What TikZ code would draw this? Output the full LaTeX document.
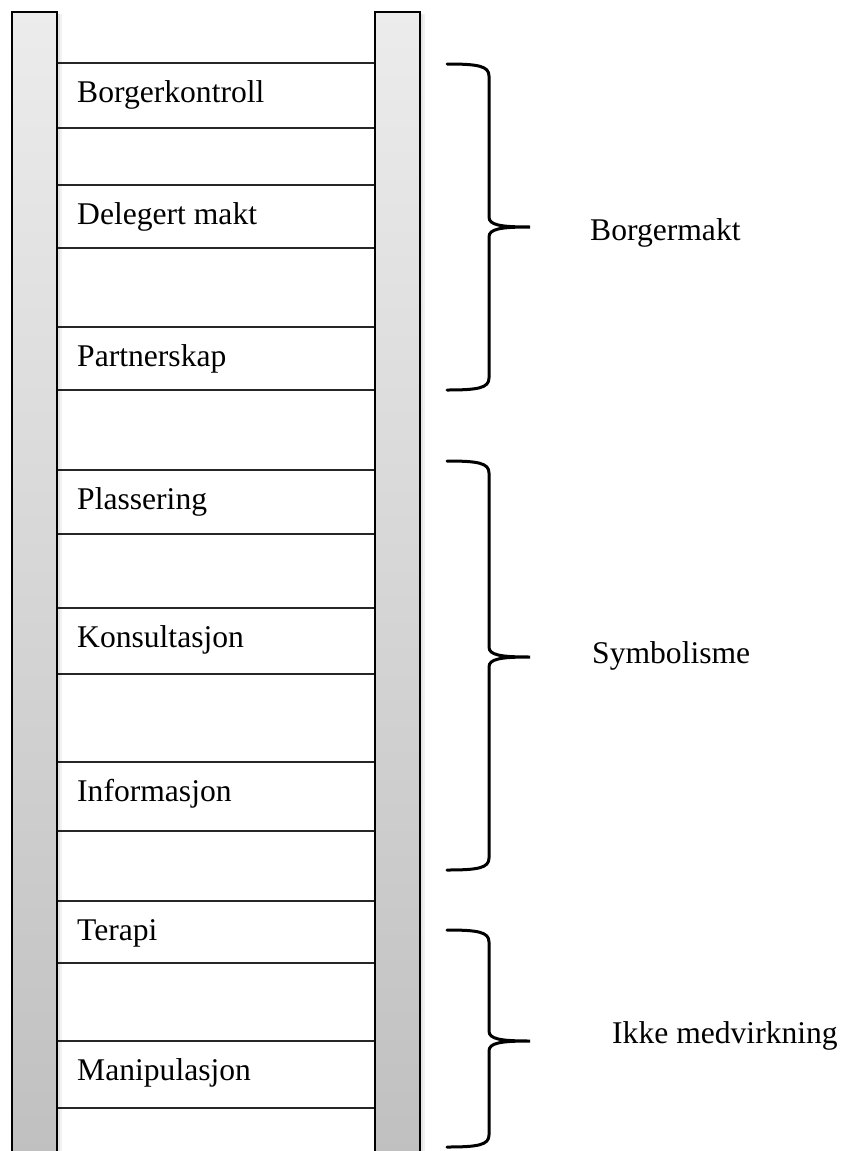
\documentclass[tikz,border=0pt]{standalone}
\usepackage{fontspec}
\setmainfont{Liberation Serif}
% right-hand curly brace: #1 top end, #2 bottom end, #3 tip height
\newcommand{\ladderbrace}[3]{%
  \draw[bracestyle] (447,#1) .. controls (478,#1) and (489,#1+2) .. (489,#1+12)
    -- (489,#3-10) .. controls (489,#3-2) and (500,#3) .. (530,#3)
    .. controls (500,#3) and (489,#3+2) .. (489,#3+10)
    -- (489,#2-12) .. controls (489,#2-2) and (478,#2) .. (447,#2);}
\begin{document}
\begin{tikzpicture}[x=1pt,y=-1pt,
  railstyle/.style={draw=black, line width=2pt, top color=gray!15, bottom color=gray!50},
  rungbox/.style={draw=black!85, line width=1.5pt, fill=white},
  rungtext/.style={anchor=base west, inner sep=0pt, font=\fontsize{31.6}{38}\selectfont},
  grouptext/.style={anchor=base west, inner sep=0pt, font=\fontsize{31.6}{38}\selectfont},
  bracestyle/.style={line width=3pt, line cap=round}
]
\useasboundingbox (0,0) rectangle (843,1151);
\clip (0,0) rectangle (843,1151);

% rungs with their labels
\foreach \t/\b/\nm/\txt in {63/128/rk/Borgerkontroll,
    185/248/rd/Delegert makt,
    327/390/rp/Partnerskap,
    470/534/rl/Plassering,
    608/674/rs/Konsultasjon,
    762/831/ri/Informasjon,
    901/963/rt/Terapi,
    1041/1108/rm/Manipulasjon}{
  \draw[rungbox] (56,\t) rectangle (376,\b);
  \node[rungtext] (\nm) at (77,\t+39) {\txt};
}

% soft shadows beside the rails
\foreach \xr in {57,420}{
  \fill[black, opacity=0.10] (\xr,14) rectangle (\xr+2.5,1170);
  \fill[black, opacity=0.05] (\xr+2.5,14) rectangle (\xr+5,1170);
}

% rails
\draw[railstyle] (12,12) rectangle (57,1175);
\draw[railstyle] (375,12) rectangle (420,1175);

% group braces
\ladderbrace{64}{390}{227}
\ladderbrace{461}{870}{657}
\ladderbrace{930}{1147}{1041}

% group labels
\node[grouptext] (gb) at (590,240) {Borgermakt};
\node[grouptext] (gs) at (592,663) {Symbolisme};
\node[grouptext] (gi) at (612,1043) {Ikke medvirkning};
\end{tikzpicture}
\end{document}
